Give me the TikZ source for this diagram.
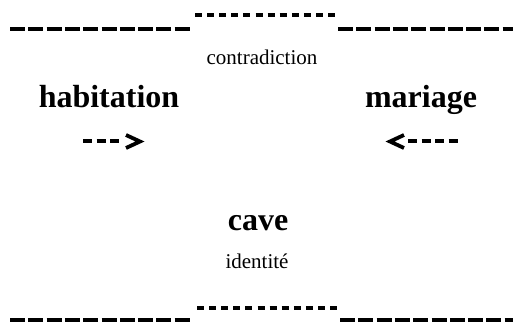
\documentclass[tikz,border=0pt]{standalone}
\usepackage{fontspec}
\setmainfont{Liberation Serif}
\begin{document}
\begin{tikzpicture}[x=1pt,y=-1pt,
  big/.style={font=\fontsize{32}{36}\selectfont\bfseries, inner sep=0pt, anchor=base},
  small/.style={font=\fontsize{21}{24}\selectfont, inner sep=0pt, anchor=base},
  dashline/.style={line width=4pt, dash pattern=on 15pt off 3.3pt},
  dotline/.style={line width=4.5pt, dash pattern=on 7pt off 5.1pt},
  arrdash/.style={line width=4.5pt, dash pattern=on 9pt off 4.5pt},
  chevron/.style={line width=3.8pt, miter limit=10}]
\useasboundingbox (0,0) rectangle (513,322);
% top
\coordinate (tl1) at (10,29); \coordinate (tl2) at (189.7,29);
\coordinate (tr1) at (338,29); \coordinate (tr2) at (513,29);
\coordinate (td1) at (195,15); \coordinate (td2) at (335,15);
\draw[dashline] (tl1) -- (tl2);
\draw[dashline] (tr1) -- (tr2);
\draw[dotline] (td1) -- (td2);
% bottom
\coordinate (bl1) at (10,320); \coordinate (bl2) at (189.7,320);
\coordinate (br1) at (340,320); \coordinate (br2) at (513,320);
\coordinate (bd1) at (197,308); \coordinate (bd2) at (337,308);
\draw[dashline] (bl1) -- (bl2);
\draw[dashline] (br1) -- (br2);
\draw[dotline] (bd1) -- (bd2);
% texts
\node[small] (contra) at (262,64) {contradiction};
\node[big] (hab) at (109,107) {habitation};
\node[big] (mar) at (421,107) {mariage};
\node[big] (cave) at (258,230) {cave};
\node[small] (ident) at (257,268) {identité};
% arrow right
\coordinate (r1) at (83,141); \coordinate (r2) at (119,141);
\coordinate (rc1) at (126,135); \coordinate (rc2) at (140,141.5); \coordinate (rc3) at (126,148);
\draw[arrdash] (r1) -- (r2);
\draw[chevron] (rc1) -- (rc2) -- (rc3);
% arrow left
\coordinate (l1) at (408,141); \coordinate (l2) at (457.5,141);
\coordinate (lc1) at (404,135); \coordinate (lc2) at (390,141.5); \coordinate (lc3) at (404,148);
\draw[arrdash] (l1) -- (l2);
\draw[chevron] (lc1) -- (lc2) -- (lc3);
\end{tikzpicture}
\end{document}
